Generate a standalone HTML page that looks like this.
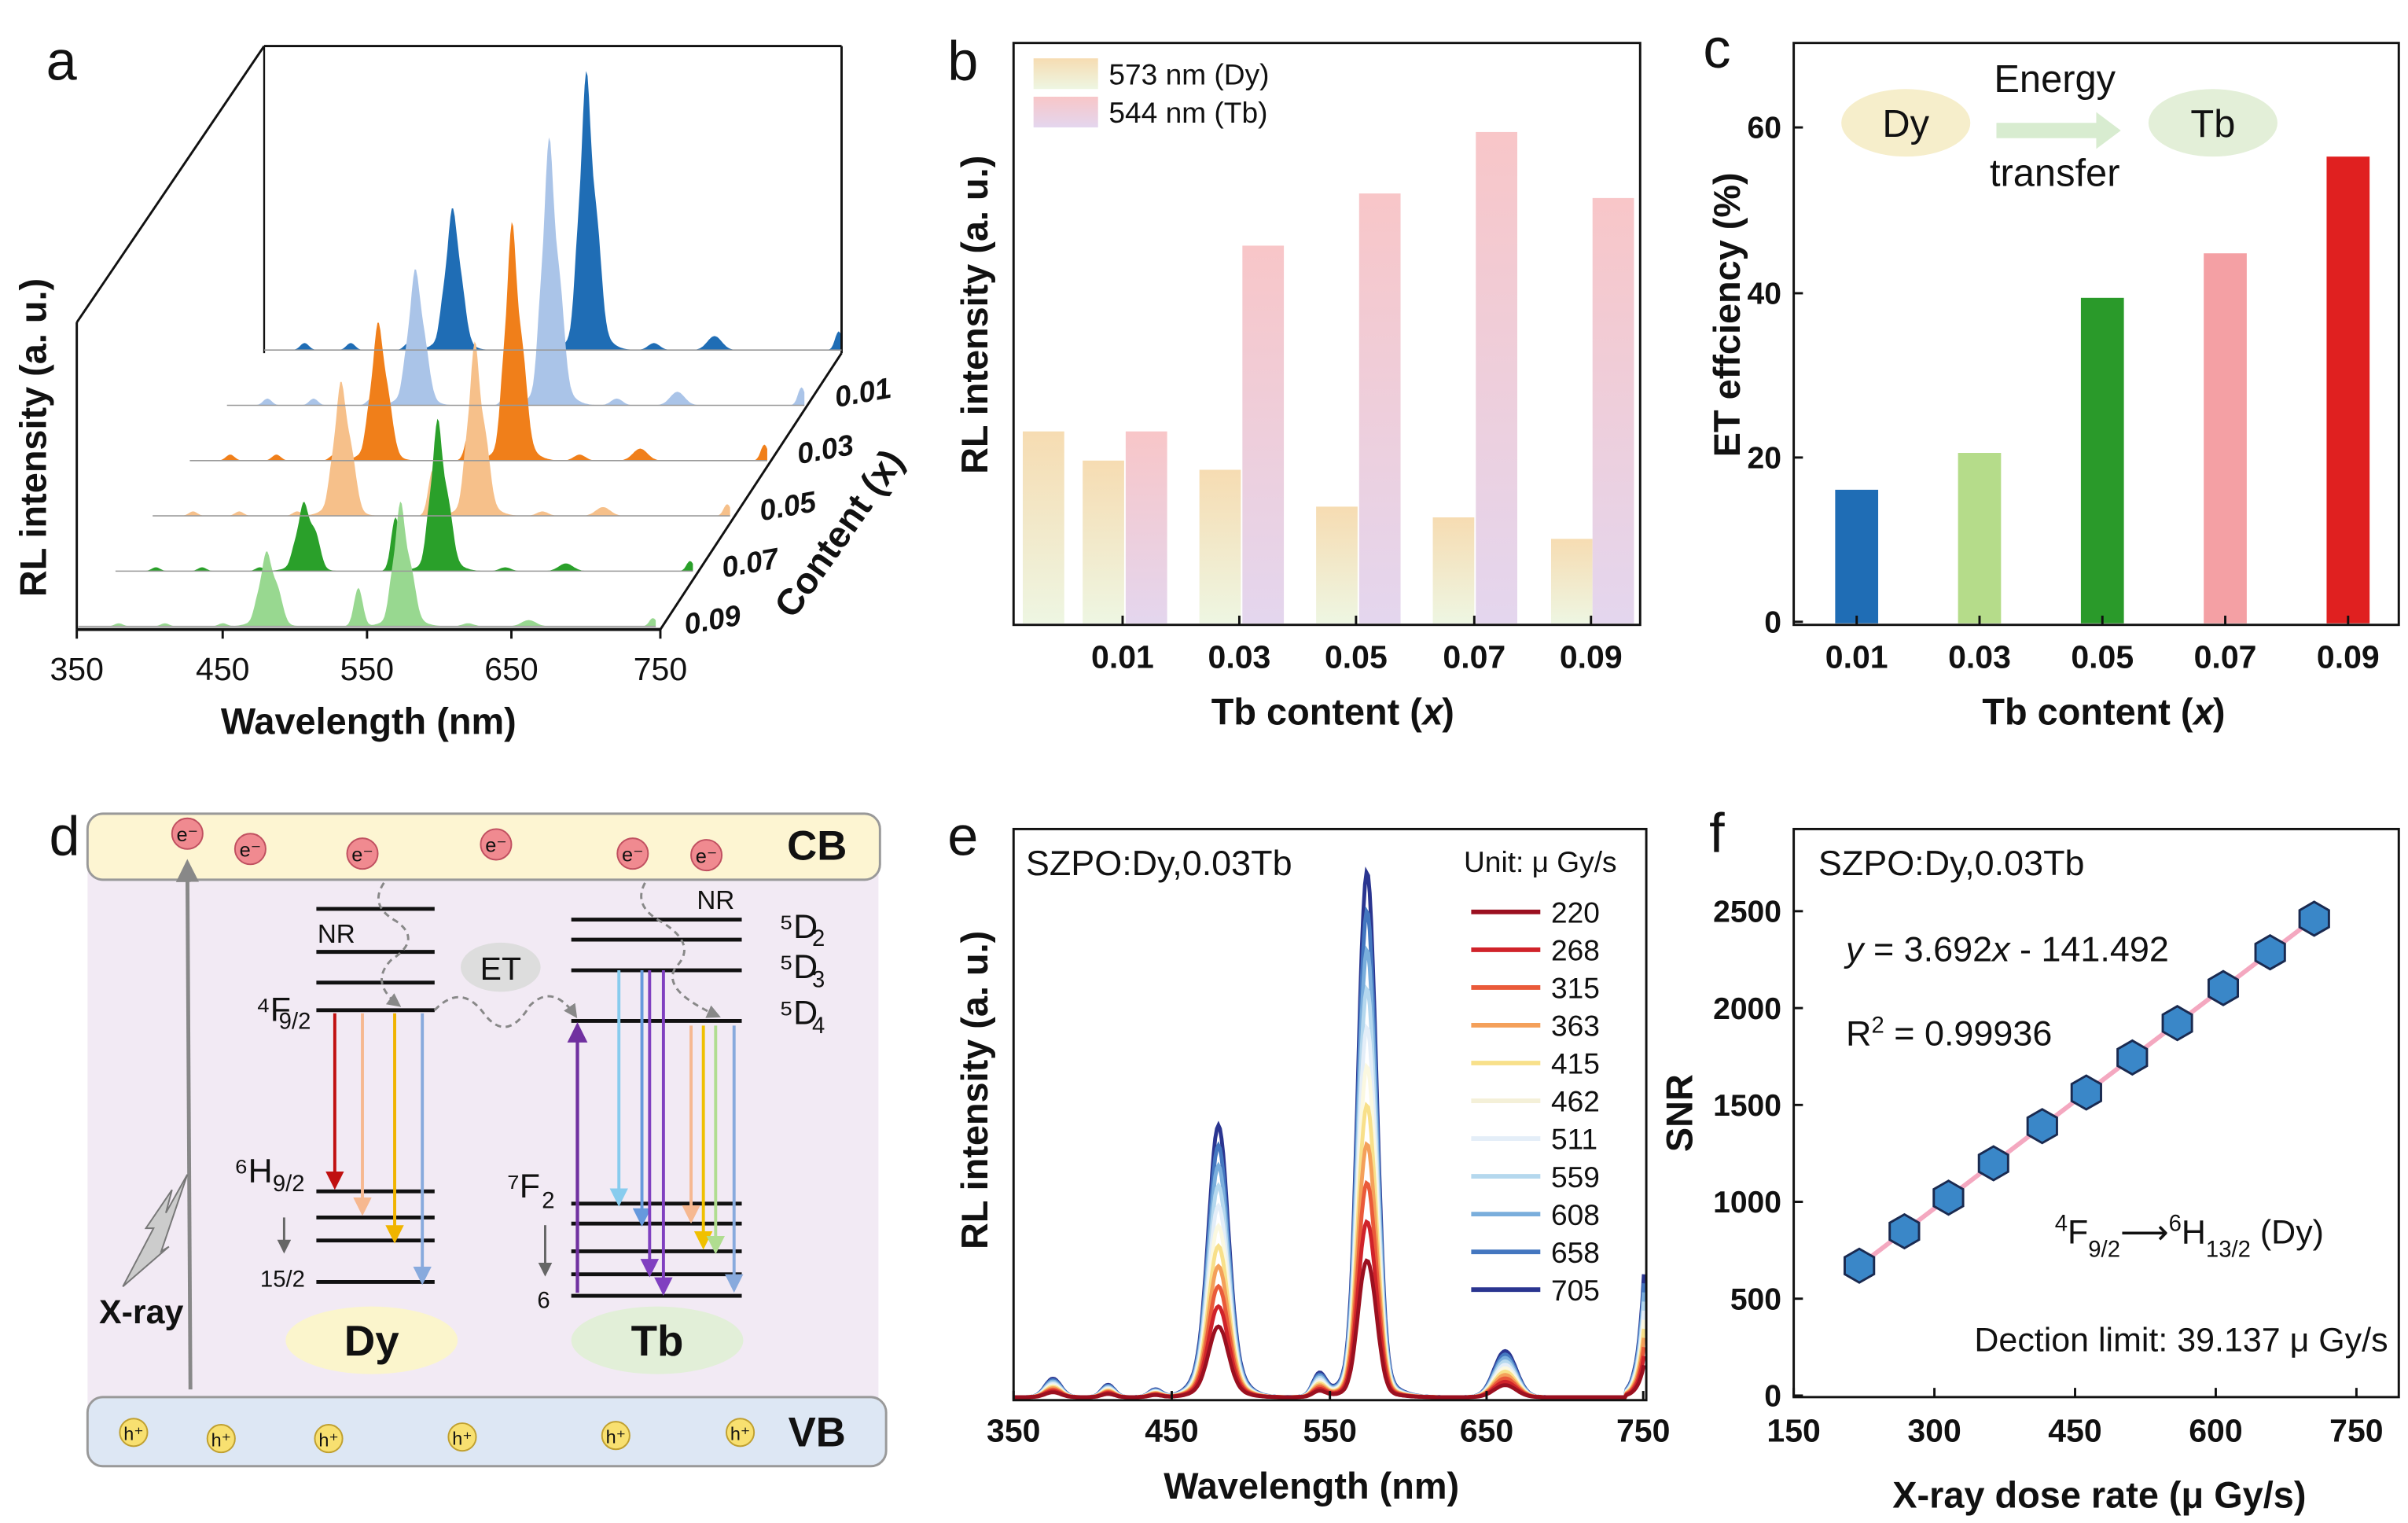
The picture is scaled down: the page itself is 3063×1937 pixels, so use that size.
<!DOCTYPE html>
<html><head><meta charset="utf-8"><style>
html,body{margin:0;padding:0;background:#fff}
svg{display:block}
text{font-family:"Liberation Sans",sans-serif;fill:#111}
</style></head><body>
<svg id="s" xmlns="http://www.w3.org/2000/svg" width="3063" height="1937" viewBox="0 0 1568 992" preserveAspectRatio="none">
<defs>
<linearGradient id="gdy" x1="0" y1="0" x2="0" y2="1"><stop offset="0" stop-color="#f6dcb2"/><stop offset="1" stop-color="#eef6e2"/></linearGradient>
<linearGradient id="gtb" x1="0" y1="0" x2="0" y2="1"><stop offset="0" stop-color="#f8c6c8"/><stop offset="1" stop-color="#e4d6ee"/></linearGradient>
<marker id="ar" markerWidth="6" markerHeight="6" refX="5" refY="3" orient="auto"><path d="M0,0 L6,3 L0,6z" fill="context-stroke"/></marker>
</defs>
<g id="A"></g>
<g id="E"></g>
</svg>
<script>
const S=document.getElementById('s');const NS='http://www.w3.org/2000/svg';
function el(t,a,txt,p){const e=document.createElementNS(NS,t);for(const k in a)e.setAttribute(k,a[k]);if(txt!=null)e.textContent=txt;(p||S).appendChild(e);return e;}
function tx(x,y,s,size,opt={}){return el('text',Object.assign({x:x,y:y,'font-size':size,'text-anchor':opt.a||'middle','font-weight':opt.w||'normal'},opt.tr?{transform:opt.tr}:{} ,opt.fill?{fill:opt.fill}:{}),s);}
function ln(x1,y1,x2,y2,c='#111',w=1.5,extra={}){return el('line',Object.assign({x1,y1,x2,y2,stroke:c,'stroke-width':w},extra));}
const g=(x,m,s)=>Math.exp(-((x-m)*(x-m))/(2*s*s));
// ===== Panel a =====
tx(40,52,'a',36);
const A=document.getElementById('A');
const planes=[[72,152,0,'#1f6db5'],[69,146,10,'#aac4e8'],[70,130,20,'#f07f1a'],[68,95,30,'#f6c08a'],[35,83,35,'#2aa02a'],[38,68,25,'#98d890']];
ln(172,30,548,30);ln(172,30,172,230,'#111',1.2);ln(548,30,548,230);ln(172,30,50,210);ln(50,210,50,410);
planes.forEach((p,i)=>{const x0=172-24.2*i,y0=228+36*i;let d='M'+x0+','+y0;
 for(let w=350;w<=750;w+=1){let v=p[0]*(g(w,480,3)+0.5*g(w,486,3.5)+0.3*g(w,474,2.5)+0.15*g(w,480,9))+p[1]*(g(w,573,3)+0.45*g(w,580,3.5)+0.3*g(w,567,2.5)+0.12*g(w,575,10))+p[2]*(g(w,544,3)+0.3*g(w,490,3))+0.06*p[1]*g(w,662,5)+0.08*p[1]*g(w,748,2.5)+0.03*p[1]*(g(w,378,3)+g(w,410,3)+g(w,450,3)+g(w,620,4));
  d+=' L'+(x0+(w-350)*0.94).toFixed(1)+','+(y0-v).toFixed(1);}
 d+=' L'+(x0+376)+','+y0+'Z';
 el('path',{d:d,fill:p[3]},null,A);ln(x0,y0,x0+376,y0,'#999',0.8);});
ln(50,410,430,410,'#111',2);ln(430,410,548,230);
[['350',50],['450',145],['550',239],['650',333],['750',430]].forEach(t=>{tx(t[1],443,t[0],21);ln(t[1],410,t[1],416);});
tx(240,478,'Wavelength (nm)',24,{w:'bold'});
tx(30,285,'RL intensity (a. u.)',24,{w:'bold',tr:'rotate(-90 30 285)'});
['0.01','0.03','0.05','0.07','0.09'].forEach((t,i)=>{tx(563-24.5*i,262+37*i,t,19,{w:'bold',tr:`rotate(-10 ${563-24.5*i} ${262+37*i})`}).setAttribute('font-style','italic');});
tx(553,352,'Content (x)',24,{w:'bold',tr:'rotate(-55 553 352)'});
// ===== Panel b =====
tx(627,52,'b',36);
el('rect',{x:660,y:28,width:408,height:379,fill:'none',stroke:'#111','stroke-width':1.5});
[[666,281],[705,300],[781,306],[857,330],[933,337],[1010,351]].forEach(b=>el('rect',{x:b[0],y:b[1],width:27,height:406-b[1],fill:'url(#gdy)'}));
[[733,281],[809,160],[885,126],[961,86],[1037,129]].forEach(b=>el('rect',{x:b[0],y:b[1],width:27,height:406-b[1],fill:'url(#gtb)'}));
[['0.01',731],['0.03',807],['0.05',883],['0.07',960],['0.09',1036]].forEach(t=>{tx(t[1],435,t[0],21,{w:'bold'});ln(t[1],407,t[1],401);});
el('rect',{x:673,y:38,width:42,height:20,fill:'url(#gdy)'});el('rect',{x:673,y:63,width:42,height:20,fill:'url(#gtb)'});
tx(722,55,'573 nm (Dy)',19,{a:'start'});tx(722,80,'544 nm (Tb)',19,{a:'start'});
tx(856,472,'Tb content (',24,{w:'bold',a:'end'}).setAttribute('x',926);
tx(933,472,'x',24,{w:'bold'}).setAttribute('font-style','italic');tx(943,472,')',24,{w:'bold'});
tx(643,205,'RL intensity (a. u.)',24,{w:'bold',tr:'rotate(-90 643 205)'});
// ===== Panel c =====
tx(1118,44,'c',36);
el('rect',{x:1168,y:28,width:394,height:379,fill:'none',stroke:'#111','stroke-width':1.5});
[[0,405],[20,298],[40,191],[60,83]].forEach(t=>{tx(1160,t[1]+7,t[0],20,{w:'bold',a:'end'});ln(1168,t[1],1174,t[1]);});
[[1209,319,'#1f6db5'],[1289,295,'#b5dc8a'],[1369,194,'#2a9a2a'],[1449,165,'#f4a0a4'],[1529,102,'#e02020']].forEach(b=>el('rect',{x:b[0]-14,y:b[1],width:28,height:406-b[1],fill:b[2]}));
[['0.01',1209],['0.03',1289],['0.05',1369],['0.07',1449],['0.09',1529]].forEach(t=>{tx(t[1],435,t[0],21,{w:'bold'});ln(t[1],407,t[1],401);});
el('ellipse',{cx:1241,cy:80,rx:42,ry:22,fill:'#f6eecb'});el('ellipse',{cx:1441,cy:80,rx:42,ry:22,fill:'#e3efd8'});
tx(1241,89,'Dy',25);tx(1441,89,'Tb',25);tx(1338,60,'Energy',25);tx(1338,121,'transfer',25);
el('path',{d:'M1300,80 L1365,80 L1365,73 L1381,85 L1365,97 L1365,90 L1300,90Z',fill:'#d8ecd0'});
tx(1357,472,'Tb content (',24,{w:'bold',a:'end'}).setAttribute('x',1428);
tx(1435,472,'x',24,{w:'bold'}).setAttribute('font-style','italic');tx(1445,472,')',24,{w:'bold'});
tx(1133,205,'ET effciency (%)',24,{w:'bold',tr:'rotate(-90 1133 205)'});
// ===== Panel d =====
tx(42,557,'d',36);
el('rect',{x:57,y:540,width:515,height:400,fill:'#f2eaf4'});
el('rect',{x:57,y:530,width:516,height:43,rx:10,fill:'#fdf5d2',stroke:'#999','stroke-width':1.5});
el('rect',{x:57,y:910,width:520,height:45,rx:10,fill:'#dde7f4',stroke:'#999','stroke-width':1.5});
tx(532,560,'CB',27,{w:'bold'});tx(532,942,'VB',27,{w:'bold'});
[[122,543],[163,553],[236,556],[323,550],[412,556],[460,557]].forEach(p=>{el('circle',{cx:p[0],cy:p[1],r:10,fill:'#f08a90',stroke:'#c05060'});tx(p[0],p[1]+5,'e⁻',13);});
[[87,933],[144,937],[214,937],[301,936],[401,935],[482,933]].forEach(p=>{el('circle',{cx:p[0],cy:p[1],r:9,fill:'#f8e070',stroke:'#c0a030'});tx(p[0],p[1]+5,'h⁺',12);});
ln(124,905,122,562,'#888',2.5,{'marker-end':'url(#ar)'});
el('path',{d:'M80,838 L100,800 L95,800 L112,775 L108,790 L122,765 L105,815 L110,812 Z',fill:'#ccc',stroke:'#777'});
tx(92,862,'X-ray',22,{w:'bold'});
[592,620,640,658].forEach(y=>ln(206,y,283,y,'#111',2.5));
[776,793,808,835].forEach(y=>ln(206,y,283,y,'#111',2.5));
[599,612,632,665].forEach(y=>ln(372,y,483,y,'#111',2.5));
[784,797,815,830,844].forEach(y=>ln(372,y,483,y,'#111',2.5));
tx(219,614,'NR',17,{});tx(466,592,'NR',17);
el('path',{d:'M250,575 Q240,590 258,600 Q275,612 255,625 Q240,640 260,655',fill:'none',stroke:'#888','stroke-dasharray':'4 3','stroke-width':1.5,'marker-end':'url(#ar)'});
el('path',{d:'M420,575 Q412,590 430,600 Q455,615 440,630 Q430,645 468,662',fill:'none',stroke:'#888','stroke-dasharray':'4 3','stroke-width':1.5,'marker-end':'url(#ar)'});
el('path',{d:'M283,658 Q300,640 315,660 Q330,680 345,655 Q360,640 375,662',fill:'none',stroke:'#888','stroke-dasharray':'4 3','stroke-width':1.5,'marker-end':'url(#ar)'});
el('ellipse',{cx:326,cy:630,rx:26,ry:16,fill:'#ddd'});tx(326,638,'ET',21);
tx(178,665,'⁴F',22,{});tx(192,670,'9/2',15);
tx(165,770,'⁶H',22);tx(188,776,'9/2',15);tx(184,838,'15/2',15);
ln(185,793,185,815,'#666',1.5,{'marker-end':'url(#ar)'});
tx(341,780,'⁷F',22);tx(357,787,'2',15);tx(354,852,'6',15);ln(355,798,355,830,'#666',1.5,{'marker-end':'url(#ar)'});
tx(520,611,'⁵D',22);tx(533,616,'2',15);tx(520,637,'⁵D',22);tx(533,643,'3',15);tx(520,667,'⁵D',22);tx(533,673,'4',15);
[[218,'#c01010',773],[236,'#f6b890',790],[257,'#f0b400',808],[275,'#88aadd',835]].forEach(a=>ln(a[0],660,a[0],a[2],a[1],2,{'marker-end':'url(#ar)'}));
ln(376,842,376,668,'#7030a0',2.2,{'marker-end':'url(#ar)'});
[[403,'#88ccee',784],[418,'#6699dd',797],[423,'#8040c0',830],[432,'#8040c0',842],[450,'#f6b890',795],[458,'#f0c000',812],[466,'#b0dd90',815],[478,'#88aadd',840]].forEach(a=>ln(a[0],a[0]<440?632:668,a[0],a[2],a[1],2,{'marker-end':'url(#ar)'}));
el('ellipse',{cx:242,cy:873,rx:56,ry:22,fill:'#fbf5cc'});tx(242,883,'Dy',28,{w:'bold'});
el('ellipse',{cx:428,cy:873,rx:56,ry:22,fill:'#e2efd8'});tx(428,883,'Tb',28,{w:'bold'});
// ===== Panel e =====
tx(627,557,'e',36);
el('rect',{x:660,y:540,width:412,height:372,fill:'none',stroke:'#111','stroke-width':1.5});
const cols=['#9b1020','#d0232a','#ea5a3a','#f4a05a','#f8e08a','#fbf8e0','#e4eef8','#b5d8ee','#7aaedc','#4477c0','#2a3590'];
const doses=[220,268,315,363,415,462,511,559,608,658,705];
const E=document.getElementById('E');
for(let i=10;i>=0;i--){const k=0.26+0.74*i/10;let d='';
 for(let w=350;w<=750;w+=1){let v=k*(177*(0.85*g(w,480,6)+0.15*g(w,480,12))+343*(0.8*g(w,573,5)+0.3*g(w,579,4.5)+0.05*g(w,573,14))+14*g(w,544,4)+30*g(w,662,7)+12*g(w,375,5)+8*g(w,410,4)+5*g(w,440,4))+(w>738?k*80*Math.exp((w-750)/4):0);
  d+=(d?' L':'M')+(660+(w-350)*1.026).toFixed(1)+','+(910-v).toFixed(1);}
 el('path',{d:d,fill:'none',stroke:cols[i],'stroke-width':2.5},null,E);}
[['350',660],['450',763],['550',866],['650',968],['750',1070]].forEach(t=>{tx(t[1],939,t[0],21,{w:'bold'});ln(t[1],912,t[1],906);});
tx(854,976,'Wavelength (nm)',24,{w:'bold'});
tx(643,710,'RL intensity (a. u.)',24,{w:'bold',tr:'rotate(-90 643 710)'});
tx(668,570,'SZPO:Dy,0.03Tb',23,{a:'start'});tx(1003,568,'Unit: μ Gy/s',19);
doses.forEach((d,i)=>{const y=594+24.6*i;ln(958,y,1003,y,cols[i]==='#fbf8e0'?'#f4f0d8':cols[i],3);tx(1010,y+7,d,19,{a:'start'});});
// ===== Panel f =====
tx(1118,555,'f',36);
el('rect',{x:1168,y:540,width:394,height:370,fill:'none',stroke:'#111','stroke-width':1.5});
const fx=v=>1168+(v-150)*0.6107, fy=v=>909-v*0.1262;
[0,500,1000,1500,2000,2500].forEach(v=>{tx(1160,fy(v)+7,v,20,{w:'bold',a:'end'});ln(1168,fy(v),1174,fy(v));});
[150,300,450,600,750].forEach(v=>{tx(fx(v),939,v,21,{w:'bold'});ln(fx(v),910,fx(v),904);});
ln(fx(210),fy(3.692*210-141.5),fx(710),fy(3.692*710-141.5),'#f4a8c0',3);
doses.forEach(d=>{const cx=fx(d),cy=fy(3.692*d-141.5);let p='';for(let j=0;j<6;j++){const a=Math.PI/3*j+Math.PI/6;p+=(cx+11*Math.cos(a)).toFixed(1)+','+(cy+11*Math.sin(a)).toFixed(1)+' ';}
 el('polygon',{points:p,fill:'#3a87c8',stroke:'#1a2a50','stroke-width':1.5});});
tx(1184,570,'SZPO:Dy,0.03Tb',23,{a:'start'});
tx(1202,626,'',23,{a:'start'}).innerHTML='<tspan font-style="italic">y</tspan> = 3.692<tspan font-style="italic">x</tspan> - 141.492';
tx(1202,681,'',23,{a:'start'}).innerHTML='R<tspan baseline-shift="super" font-size="15">2</tspan> = 0.99936';
tx(1338,810,'',22,{a:'start'}).innerHTML='<tspan baseline-shift="super" font-size="15">4</tspan>F<tspan baseline-shift="sub" font-size="15">9/2</tspan>⟶<tspan baseline-shift="super" font-size="15">6</tspan>H<tspan baseline-shift="sub" font-size="15">13/2</tspan> (Dy)';
tx(1555,880,'Dection limit: 39.137 μ Gy/s',22,{a:'end'});
tx(1367,982,'X-ray dose rate (μ Gy/s)',24,{w:'bold'});
tx(1102,725,'SNR',24,{w:'bold',tr:'rotate(-90 1102 725)'});
</script>
</body></html>
